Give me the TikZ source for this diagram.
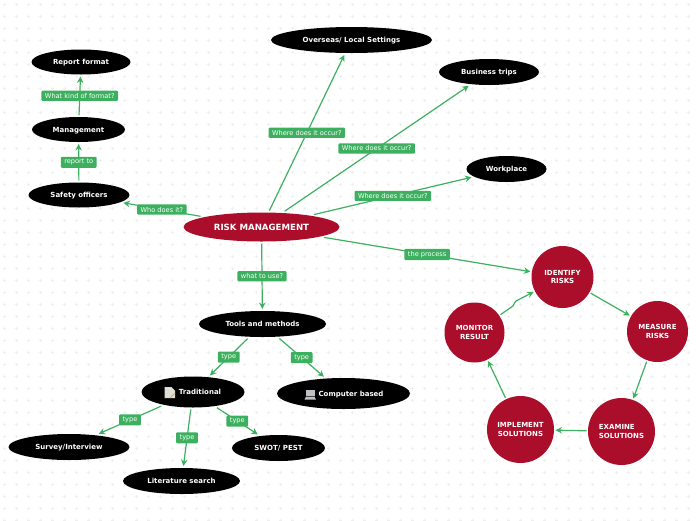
\documentclass[tikz,border=0pt]{standalone}
\usepackage{fontspec}
\setmainfont{DejaVu Sans}
\usetikzlibrary{arrows.meta,shapes.geometric}
\definecolor{linkgreen}{RGB}{60,176,95}
\definecolor{riskred}{RGB}{170,14,42}
\definecolor{griddot}{RGB}{238,240,238}
\definecolor{icongrey}{RGB}{190,192,195}
\definecolor{iconpage}{RGB}{222,222,218}
\definecolor{iconpen}{RGB}{226,178,50}

\begin{document}
\begin{tikzpicture}[
  x=1pt, y=-1pt,
  topic/.style  = {ellipse, fill=black, text=white, inner sep=0pt, outer sep=2pt,
                   text height=5pt, text depth=0pt,
                   font=\bfseries\fontsize{7}{8}\selectfont},
  root/.style   = {ellipse, fill=riskred, text=white, inner sep=0pt, outer sep=2pt,
                   text height=6pt, text depth=0pt,
                   font=\bfseries\fontsize{8.6}{9}\selectfont},
  stage/.style  = {circle, fill=riskred, text=white, inner sep=0pt, outer sep=1.5pt,
                   align=center, font=\bfseries\fontsize{7}{8.6}\selectfont},
  link/.style   = {draw=linkgreen, line width=1.2pt, -{Stealth[length=6.5pt,width=6.5pt]}},
  lbl/.style    = {fill=linkgreen, text=white, rounded corners=1pt, inner xsep=3.5pt,
                   inner ysep=2.5pt, font=\fontsize{6.6}{7.5}\selectfont},
]
  \useasboundingbox (0,0) rectangle (696,520);

  % faint dotted paper
  \foreach \gx in {4,16,...,696}
    \foreach \gy in {4,16,...,520}
      \draw[griddot,line width=0.5pt] (\gx-1.5,\gy) -- (\gx+1.5,\gy) (\gx,\gy-1.5) -- (\gx,\gy+1.5);

  \node[root,minimum width=156pt,minimum height=29pt] (risk) at (261.5,227) {RISK MANAGEMENT};

  \node[topic,minimum width=99pt,minimum height=25pt] (format) at (81,62) {Report format};
  \node[topic,minimum width=93pt,minimum height=25pt] (mgmt) at (78.5,129.5) {Management};
  \node[topic,minimum width=101pt,minimum height=25pt] (safety) at (79,195) {Safety officers};
  \node[topic,minimum width=161pt,minimum height=26pt] (overseas) at (351.5,40) {Overseas/ Local Settings};
  \node[topic,minimum width=100pt,minimum height=26pt] (trips) at (489,72) {Business trips};
  \node[topic,minimum width=80pt,minimum height=26pt] (work) at (506.5,169) {Workplace};
  \node[topic,minimum width=127pt,minimum height=26pt] (tools) at (262.5,324) {Tools and methods};
  \node[topic,minimum width=103pt,minimum height=31pt] (trad) at (193,392) {\hspace*{14pt}Traditional};
  \node[topic,minimum width=133pt,minimum height=31pt] (comp) at (343.5,393.5) {\hspace*{15pt}Computer based};
  \node[topic,minimum width=121pt,minimum height=26pt] (survey) at (69,447) {Survey/Interview};
  \node[topic,minimum width=117pt,minimum height=26pt] (lit) at (181.5,481) {Literature search};
  \node[topic,minimum width=93pt,minimum height=26pt] (swot) at (278.5,448) {SWOT/ PEST};

  \node[stage,minimum size=62pt] (identify) at (562.5,277) {IDENTIFY\\RISKS};
  \node[stage,minimum size=61pt] (measure) at (657.5,331.5) {MEASURE\\RISKS};
  \node[stage,minimum size=67pt,align=left] (examine) at (621.5,431.5) {EXAMINE\\SOLUTIONS};
  \node[stage,minimum size=67pt] (implement) at (520.5,429.5) {IMPLEMENT\\SOLUTIONS};
  \node[stage,minimum size=60pt] (monitor) at (474.5,332.5) {MONITOR\\RESULT};

  % page icon and laptop icon
  \fill[iconpage] (164.5,387) -- (171.5,387) -- (175,390.5) -- (175,398) -- (164.5,398) -- cycle;
  \draw[iconpen,line width=1pt] (170.5,397.5) -- (175,393);
  \fill[icongrey] (306,389.5) rectangle (314.5,396);
  \fill[icongrey] (306,396.5) -- (314.5,396.5) -- (316,399.5) -- (304.5,399.5) -- cycle;

  \draw[link] (risk) to node[lbl] {Where does it occur?} (overseas);
  \draw[link] (risk) to node[lbl] {Where does it occur?} (trips);
  \draw[link] (risk) to node[lbl] {Where does it occur?} (work);
  \draw[link] (risk) to node[lbl] {Who does it?} (safety);
  \draw[link] (risk) to node[lbl] {the process} (identify);
  \draw[link] (risk) to node[lbl] {what to use?} (tools);

  \draw[link] (safety) to node[lbl] {report to} (mgmt);
  \draw[link] (mgmt) to node[lbl] {What kind of format?} (format);

  \draw[link] (tools) to node[lbl] {type} (trad);
  \draw[link] (tools) to node[lbl] {type} (comp);
  \draw[link] (trad) to node[lbl] {type} (survey);
  \draw[link] (trad) to node[lbl] {type} (lit);
  \draw[link] (trad) to node[lbl] {type} (swot);

  \draw[link] (identify) to (measure);
  \draw[link] (measure) to (examine);
  \draw[link] (examine) to (implement);
  \draw[link] (implement) to (monitor);
  % the one wavy link of the cycle
  \coordinate (bendA) at (513,306);
  \coordinate (bendB) at (516,301);
  \draw[link] (monitor) -- (bendA) .. controls (515,304) and (514,302) .. (bendB) -- (identify);
\end{tikzpicture}
\end{document}
